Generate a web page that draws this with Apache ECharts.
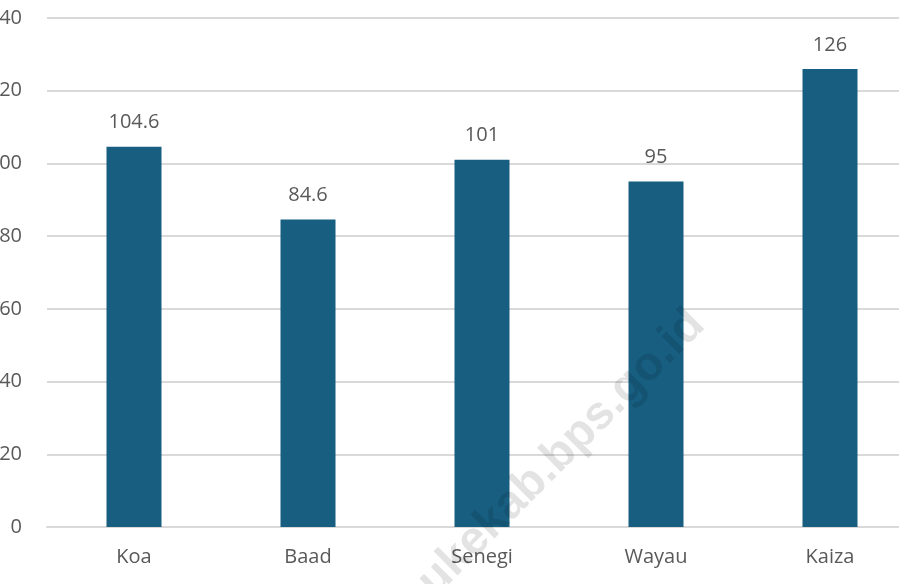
<!DOCTYPE html>
<html>
<head>
<meta charset="utf-8">
<script src="https://cdn.jsdelivr.net/npm/echarts@6/dist/echarts.min.js"></script>
<style>html,body{margin:0;padding:0;background:#fff;}#c{width:899px;height:584px;}</style>
</head>
<body>
<div id="c"></div>
<script>
var categories = ["Koa", "Baad", "Senegi", "Wayau", "Kaiza"];
var values = [104.6, 84.6, 101, 95, 126];
var valueLabels = ["104.6", "84.6", "101", "95", "126"];
var yTicks = [0, 20, 40, 60, 80, 100, 120, 140];

var wmFont = 'bold 47px "Liberation Sans", sans-serif';
var wmPrefix = 'meraukekab';
var wmText = 'meraukekab.bps.go.id';
var ang = Math.PI / 4;
var mctx = document.createElement('canvas').getContext('2d');
mctx.font = wmFont;
var wPrefix = mctx.measureText(wmPrefix).width;
// baseline point at the end of "meraukekab"
var bx = 551, by = 485;
var ux = Math.cos(ang), uy = -Math.sin(ang);
var sx = bx - wPrefix * ux, sy = by - wPrefix * uy;
// move from baseline to text middle (up direction)
var off = 0.32 * 47;
sx += off * (-Math.sin(ang));
sy += off * (-Math.cos(ang));

var chart = echarts.init(document.getElementById('c'), null, {renderer: 'canvas'});
var font = '"Open Sans", "Liberation Sans", sans-serif';
chart.setOption({
  animation: false,
  backgroundColor: '#ffffff',
  grid: {left: 47, right: -18, top: 18, bottom: 57, containLabel: false, outerBoundsMode: 'none'},
  graphic: [{
    type: 'text',
    z: 100,
    x: sx, y: sy,
    rotation: ang,
    silent: true,
    style: {
      text: wmText,
      fill: 'rgba(0,0,0,0.11)',
      font: wmFont,
      textAlign: 'left',
      textVerticalAlign: 'middle'
    }
  }],
  xAxis: {
    type: 'category',
    data: categories,
    axisLine: {show: true, lineStyle: {color: '#d9d9d9', width: 2}},
    axisTick: {show: false},
    axisLabel: {color: '#595959', fontSize: 20, fontFamily: font, margin: 20}
  },
  yAxis: {
    type: 'value',
    min: yTicks[0],
    max: yTicks[yTicks.length - 1],
    interval: 20,
    axisLine: {show: false},
    axisTick: {show: false},
    splitLine: {lineStyle: {color: '#d9d9d9', width: 2}},
    axisLabel: {color: '#595959', fontSize: 20, fontFamily: font, margin: 25}
  },
  series: [{
    type: 'bar',
    data: values,
    barWidth: 55,
    z: 5,
    itemStyle: {color: '#175e80'},
    label: {
      show: true,
      position: 'top',
      distance: 14,
      color: '#595959',
      fontSize: 20,
      fontFamily: font,
      formatter: function (p) { return valueLabels[p.dataIndex]; }
    }
  }]
});
</script>
</body>
</html>
